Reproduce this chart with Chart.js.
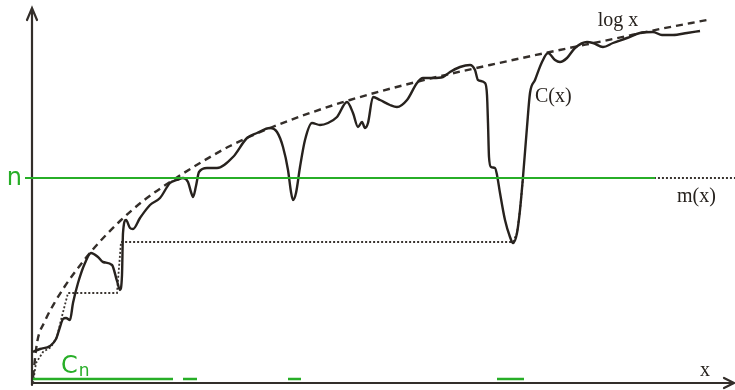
<!DOCTYPE html>
<html>
<head>
<meta charset="utf-8">
<script src="https://cdn.jsdelivr.net/npm/chart.js@4/dist/chart.umd.min.js"></script>
<style>
  html, body { margin: 0; padding: 0; background: #fff; }
  #plot { display: block; }
</style>
</head>
<body>
<canvas id="plot" width="735" height="390"></canvas>
<script>
// Smooth reference curve log x
const logXs = [0, 4, 12, 22, 32, 42, 52, 62, 73, 87, 110, 140, 167, 197, 237, 277, 317, 387, 457, 517, 580, 627, 674];
const logYs = [6, 40, 62, 81, 97, 111, 124, 136, 148, 162, 182, 203, 220, 237, 255, 270, 283, 302, 318, 331, 344, 354, 363];

// Wiggly function C(x)
const cXs = [0, 7, 17, 23, 27, 30, 33, 37, 40, 45, 52, 58, 65, 70, 79, 84, 87, 89, 90, 93, 97, 100, 107, 117, 127, 137, 144, 150, 155, 158, 160, 163, 166, 174, 184, 200, 214, 224, 237, 244, 250, 255, 258, 260, 263, 267, 272, 279, 287, 295, 304, 314, 320, 325, 329, 332, 335, 340, 347, 357, 364, 374, 384, 390, 400, 410, 417, 427, 437, 442, 445, 452, 454, 455, 456, 458, 462, 464, 467, 472, 477, 480, 484, 487, 490, 494, 497, 502, 509, 515, 522, 527, 534, 542, 554, 560, 570, 580, 594, 607, 620, 629, 640, 654, 667];
const cYs = [31, 34, 37, 44, 56, 64, 65, 63, 80, 100, 120, 130, 126, 121, 118, 102, 93, 108, 150, 163, 155, 154, 165, 178, 185, 200, 203, 205, 201, 191, 186, 197, 211, 215, 215, 226, 245, 250, 255, 251, 236, 213, 191, 183, 190, 216, 243, 260, 258, 260, 266, 281, 270, 256, 261, 255, 260, 286, 283, 278, 276, 283, 300, 305, 305, 306, 311, 316, 318, 313, 303, 300, 288, 260, 226, 216, 215, 208, 190, 163, 146, 140, 150, 173, 206, 256, 290, 303, 321, 330, 323, 321, 325, 335, 341, 340, 336, 340, 345, 350, 351, 348, 348, 350, 352];

// Running minimum m(x), drawn as a step line
const mXs = [0, 3, 10, 18, 24, 28, 35, 84, 88, 480, 484, 487, 490, 702];
const mYs = [0, 20, 31, 36, 46, 63, 90, 90, 141, 141, 150, 173, 205, 205];

// Level n and the set C_n where C(x) stays below it
const nLevel = 205;
const nStart = -8;
const nEnd = 622;
const cnStarts = [0, 150, 255, 464];
const cnEnds = [140, 164, 268, 491];
const cnLevel = 4;

const ink = '#27221e';
const green = '#27ae27';

const pairs = (xs, ys) => xs.map((x, i) => ({ x: x, y: ys[i] }));

const cnData = [];
cnStarts.forEach((s, i) => {
  cnData.push({ x: s, y: cnLevel }, { x: cnEnds[i], y: cnLevel }, { x: cnEnds[i] + 1, y: null });
});

// Axes with arrowheads, plus the text labels
const decorations = {
  id: 'decorations',
  beforeDatasetsDraw(chart) {
    const { ctx, scales: { x, y } } = chart;
    const ox = x.getPixelForValue(-1);
    const oy = y.getPixelForValue(0);
    const top = y.getPixelForValue(375);
    const bottom = y.getPixelForValue(-2);
    const right = x.getPixelForValue(702);
    ctx.save();
    ctx.strokeStyle = '#332e2a';
    ctx.lineWidth = 2.2;
    ctx.lineCap = 'round';
    ctx.beginPath();
    ctx.moveTo(ox, bottom);
    ctx.lineTo(ox, top);
    ctx.moveTo(ox - 5, top + 12);
    ctx.lineTo(ox, top);
    ctx.lineTo(ox + 5, top + 12);
    ctx.moveTo(ox, oy);
    ctx.lineTo(right - 1, oy);
    ctx.moveTo(right - 11, oy - 5);
    ctx.lineTo(right - 1, oy);
    ctx.lineTo(right - 11, oy + 5);
    ctx.stroke();
    ctx.restore();
  },
  afterDatasetsDraw(chart) {
    const { ctx, scales: { x, y } } = chart;
    ctx.save();
    ctx.fillStyle = ink;
    ctx.font = '20px "Liberation Serif", "Times New Roman", serif';
    ctx.textBaseline = 'alphabetic';
    ctx.textAlign = 'center';
    ctx.fillText('log x', x.getPixelForValue(585), y.getPixelForValue(357));
    ctx.textAlign = 'left';
    ctx.fillText('C(x)', x.getPixelForValue(502), y.getPixelForValue(281));
    ctx.fillText('m(x)', x.getPixelForValue(644), y.getPixelForValue(181));
    ctx.textAlign = 'center';
    ctx.fillText('x', x.getPixelForValue(672), y.getPixelForValue(7));

    ctx.fillStyle = green;
    ctx.font = '24px "DejaVu Sans", sans-serif';
    ctx.textAlign = 'right';
    ctx.fillText('n', x.getPixelForValue(-11), y.getPixelForValue(nLevel) + 7);
    ctx.textAlign = 'left';
    const cx = x.getPixelForValue(28);
    const cy = y.getPixelForValue(10);
    ctx.fillText('C', cx, cy);
    const cw = ctx.measureText('C').width;
    ctx.font = '17px "DejaVu Sans", sans-serif';
    ctx.fillText('n', cx + cw + 1, cy + 3);
    ctx.restore();
  }
};

new Chart(document.getElementById('plot'), {
  type: 'scatter',
  data: {
    datasets: [
      {
        label: 'n',
        data: [{ x: nStart, y: nLevel }, { x: nEnd, y: nLevel }],
        showLine: true, borderColor: green, borderWidth: 2,
        pointRadius: 0, order: 0
      },
      {
        label: 'C_n',
        data: cnData,
        showLine: true, spanGaps: false, borderColor: green, borderWidth: 2.5,
        pointRadius: 0, order: 1
      },
      {
        label: 'C(x)',
        data: pairs(cXs, cYs),
        showLine: true, borderColor: ink, borderWidth: 2.4,
        cubicInterpolationMode: 'monotone',
        pointRadius: 0, order: 2
      },
      {
        label: 'log x',
        data: pairs(logXs, logYs),
        showLine: true, borderColor: '#342e2a', borderWidth: 2.4,
        borderDash: [7, 5],
        cubicInterpolationMode: 'monotone',
        pointRadius: 0, order: 3
      },
      {
        label: 'm(x)',
        data: pairs(mXs, mYs),
        showLine: true, borderColor: '#3a3430', borderWidth: 1.8,
        borderDash: [2, 2], tension: 0,
        pointRadius: 0, order: 4
      }
    ]
  },
  options: {
    responsive: false,
    animation: false,
    devicePixelRatio: 1,
    layout: { padding: 0 },
    plugins: { legend: { display: false }, tooltip: { enabled: false } },
    scales: {
      x: { type: 'linear', min: -33, max: 702, display: false },
      y: { type: 'linear', min: -7, max: 383, display: false }
    }
  },
  plugins: [decorations]
});
</script>
</body>
</html>
